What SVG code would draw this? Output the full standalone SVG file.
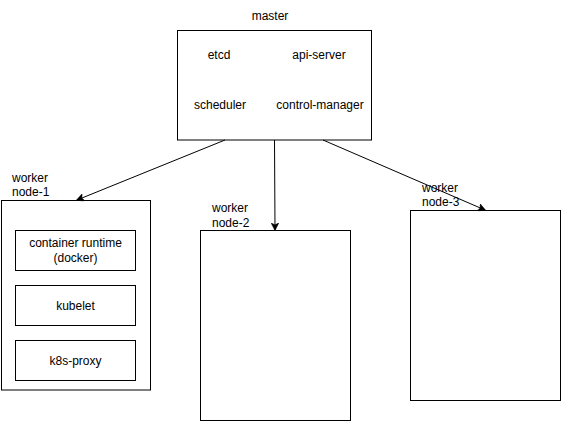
<svg xmlns="http://www.w3.org/2000/svg" width="561" height="421" viewBox="0 0 561 421">
<style>
.box{fill:#fff;stroke:#000;stroke-width:1}
.t{font-family:"Liberation Sans",Arial,sans-serif;font-size:12px;fill:#000}
.c{text-anchor:middle}
.edge{stroke:#000;stroke-width:1;fill:none}
</style>
<defs>
<marker id="arr" viewBox="0 0 10 10" refX="9" refY="5" markerWidth="8" markerHeight="8" markerUnits="userSpaceOnUse" orient="auto">
<path d="M0,0 L10,5 L0,10 L2.5,5 Z" fill="#000" stroke="#000" stroke-width="0.5"/>
</marker>
</defs>
<rect width="561" height="421" fill="#fff"/>
<g id="master">
<text class="t c" x="270" y="20">master</text>
<rect class="box" x="177.5" y="30.5" width="194" height="109.5"/>
<text class="t c" x="219" y="58.5">etcd</text>
<text class="t c" x="319" y="58.5">api-server</text>
<text class="t c" x="220" y="108.5">scheduler</text>
<text class="t c" x="320" y="108.5">control-manager</text>
</g>
<g id="worker1">
<rect class="box" x="1.5" y="200.5" width="149" height="189.5"/>
<text class="t" x="12" y="182">worker</text>
<text class="t" x="12" y="196">node-1</text>
<g id="runtime">
<rect class="box" x="15.5" y="230.5" width="120" height="40"/>
<text class="t c" x="75.5" y="247">container runtime</text>
<text class="t c" x="75.5" y="262">(docker)</text>
</g>
<g id="kubelet">
<rect class="box" x="15.5" y="285.5" width="120" height="40"/>
<text class="t c" x="75.5" y="309.5">kubelet</text>
</g>
<g id="proxy">
<rect class="box" x="15.5" y="340.5" width="120" height="40"/>
<text class="t c" x="75.5" y="364.5">k8s-proxy</text>
</g>
</g>
<g id="worker2">
<rect class="box" x="200.5" y="230.5" width="150" height="190"/>
<text class="t" x="212" y="212">worker</text>
<text class="t" x="212" y="227">node-2</text>
</g>
<g id="worker3">
<rect class="box" x="410.5" y="210.5" width="150" height="190"/>
<text class="t" x="422" y="192">worker</text>
<text class="t" x="422" y="206">node-3</text>
</g>
<g id="connectors">
<line class="edge" x1="225" y1="140" x2="77" y2="200" marker-end="url(#arr)"/>
<line class="edge" x1="274.5" y1="140" x2="275" y2="230" marker-end="url(#arr)"/>
<line class="edge" x1="323" y1="140" x2="485" y2="210" marker-end="url(#arr)"/>
</g>
</svg>
